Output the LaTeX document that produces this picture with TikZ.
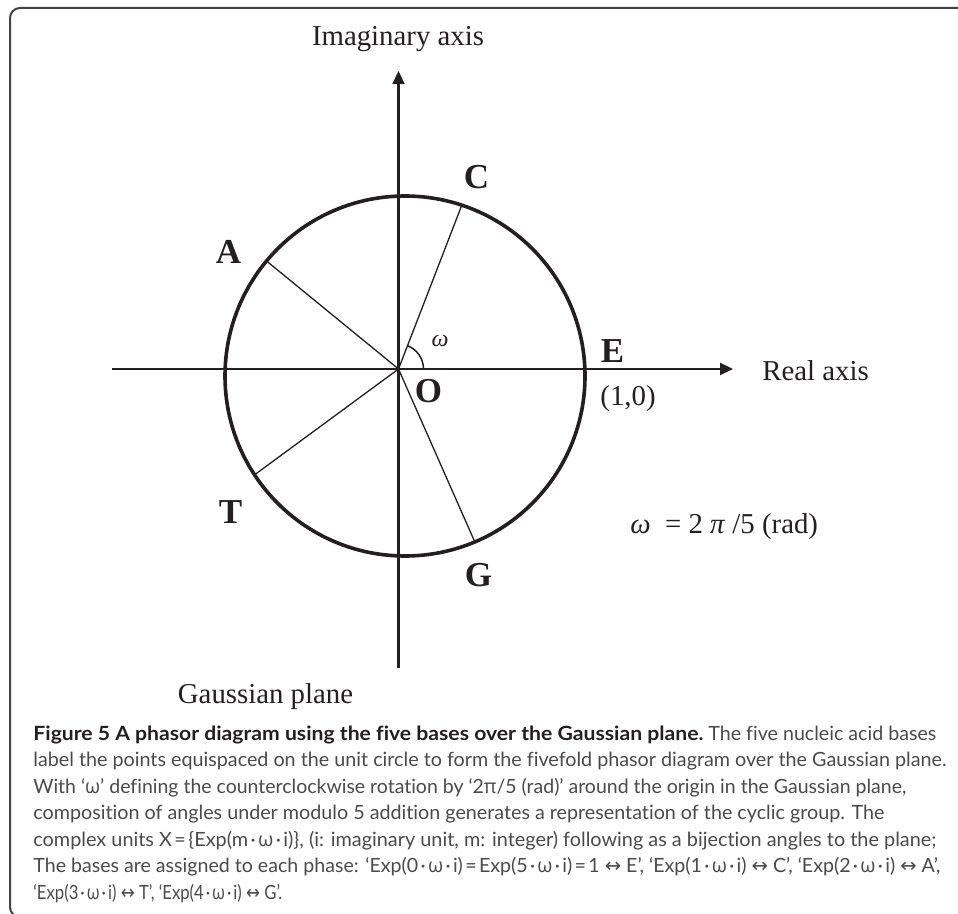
\documentclass[tikz,border=0pt]{standalone}
\usepackage{fontspec}
\usepackage{graphicx}
\setmainfont{Liberation Serif}
\newfontfamily\capfont[Ligatures=NoCommon]{Lato}
\newfontfamily\grkfont{Open Sans}
\newfontfamily\symfont{DejaVu Sans}
\usetikzlibrary{arrows.meta}
\definecolor{ink}{HTML}{231F20}
\definecolor{captext}{HTML}{4A4A4A}
\newcommand{\myw}{{\grkfont ω}}
\newcommand{\mydot}{\kern0.12em·\kern0.12em}
\newcommand{\myeq}{\kern0.12em=\kern0.12em}
\newcommand{\myarr}{{\symfont ↔}}
\newcommand{\fitline}[2]{\resizebox{#1}{\height}{#2}}
\begin{document}
\begin{tikzpicture}[x=0.5pt,y=-0.5pt,
  frame/.style={draw=ink!85, line width=1pt, rounded corners=5pt},
  axisline/.style={draw=ink, line width=1.1pt, -{Triangle[length=6.5pt,width=6pt]}},
  circ/.style={draw=ink, line width=1.8pt},
  ray/.style={draw=ink, line width=0.65pt},
  arcline/.style={draw=ink, line width=0.75pt},
  lbl/.style={text=ink, inner sep=0pt, font=\fontsize{14.4}{17}\selectfont},
  ptlbl/.style={text=ink, inner sep=0pt, font=\fontsize{17.5}{20}\selectfont\bfseries},
  capline/.style={text=captext, inner sep=0pt, anchor=base west, font=\capfont\fontsize{9.8}{13}\selectfont}
]
\useasboundingbox (0,0) rectangle (958,914);
\begin{scope}
  \clip (0,0) rectangle (958,914);
  \draw[frame] (10,8) rectangle (968,917);
\end{scope}

% geometry
\coordinate (O) at (398.5,369);
\coordinate (Ctr) at (405,376);
\coordinate (xl) at (112,369);
\coordinate (xr) at (733,369);
\coordinate (yb) at (398.5,668);
\coordinate (yt) at (398.5,71);
\coordinate (pA) at (266.5,261);
\coordinate (pC) at (461.8,205.2);
\coordinate (pT) at (254.6,474.8);
\coordinate (pG) at (474.8,541.9);

\draw[axisline] (xl) -- (xr);
\draw[axisline] (yb) -- (yt);
\draw[circ] (Ctr) circle[radius=180];
\draw[ray] (O) -- (pA);
\draw[ray] (O) -- (pC);
\draw[ray] (O) -- (pT);
\draw[ray] (O) -- (pG);
\draw[arcline] (423.5,369) arc[start angle=0, end angle=-69, radius=25];

% labels
\node[lbl, anchor=base] (imag) at (398,46) {Imaginary axis};
\node[lbl, anchor=base west] (real) at (762,380) {Real axis};
\node[lbl, anchor=base] (gauss) at (265.5,703) {Gaussian plane};
\node[lbl] (one) at (628,398.5) {(1,0)};
\node[text=ink, inner sep=0pt, font=\fontsize{12}{14}\selectfont\itshape] (omg) at (440,341) {ω};
\node[lbl, anchor=base west] (omgdef) at (630,533) {\textit{ω}\hspace{0.5em}= 2 \textit{π} /5 (rad)};
\node[ptlbl] (lA) at (228.5,252) {A};
\node[ptlbl] (lC) at (476.5,177.5) {C};
\node[ptlbl] (lE) at (612.5,351.5) {E};
\node[ptlbl] (lO) at (428.5,391.5) {O};
\node[ptlbl] (lT) at (230.5,512.5) {T};
\node[ptlbl] (lG) at (478.5,575) {G};

% caption
\node[capline] (c1) at (33,740) {\fitline{335pt}{\bfseries\color{ink}Figure 5 A phasor diagram using the five bases over the Gaussian plane.}\ \fitline{114pt}{The five nucleic acid bases}};
\node[capline] (c2) at (33,766.5) {\fitline{456.5pt}{label the points equispaced on the unit circle to form the fivefold phasor diagram over the Gaussian plane.}};
\node[capline] (c3) at (33,793) {\fitline{436.5pt}{With ‘\myw’ defining the counterclockwise rotation by ‘2{\grkfont π}/5 (rad)’ around the origin in the Gaussian plane,}};
\node[capline] (c4) at (33,819.5) {\fitline{425.5pt}{composition of angles under modulo 5 addition generates a representation of the cyclic group. The}};
\node[capline] (c5) at (33,846) {\fitline{451.5pt}{complex units X\myeq\{Exp(m\mydot\myw\mydot i)\}, (i: imaginary unit, m: integer) following as a bijection angles to the plane;}};
\node[capline] (c6) at (33,872.5) {\fitline{453.5pt}{The bases are assigned to each phase: ‘Exp(0\mydot\myw\mydot i)\myeq Exp(5\mydot\myw\mydot i)\myeq 1 \myarr\ E’, ‘Exp(1\mydot\myw\mydot i) \myarr\ C’, ‘Exp(2\mydot\myw\mydot i) \myarr\ A’,}};
\node[capline] (c7) at (33,899) {\fitline{124.5pt}{‘Exp(3\mydot\myw\mydot i) \myarr\ T’, ‘Exp(4\mydot\myw\mydot i) \myarr\ G’.}};
\end{tikzpicture}
\end{document}
